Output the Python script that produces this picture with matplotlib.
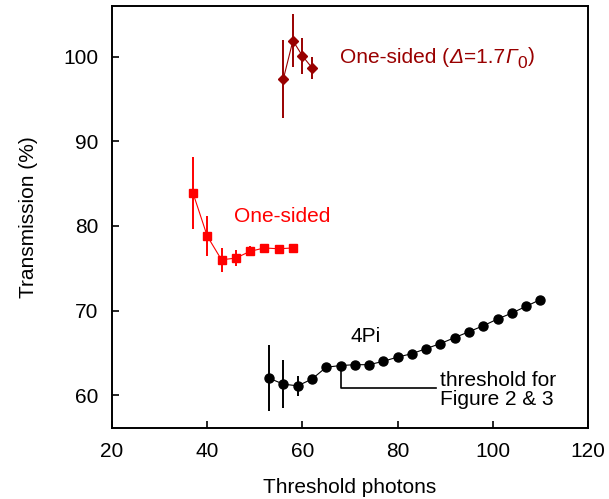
import numpy as np
import matplotlib
matplotlib.use("Agg")
import matplotlib.pyplot as plt

plt.rcParams['font.family'] = ['Liberation Sans', 'DejaVu Sans']

# 4Pi (negro)
x_4pi = [53, 56, 59, 62, 65, 68, 71, 74, 77, 80, 83, 86, 89, 92, 95, 98, 101, 104, 107, 110]
y_4pi = [62.0, 61.3, 61.1, 61.9, 63.3, 63.5, 63.6, 63.6, 64.0, 64.5,
         64.9, 65.5, 66.1, 66.8, 67.5, 68.2, 69.0, 69.7, 70.5, 71.3]
e_4pi = [3.9, 2.8, 1.2, 0.5, 0.3, 0.3, 0.3, 0.3, 0.3, 0.3,
         0.3, 0.3, 0.3, 0.3, 0.3, 0.3, 0.3, 0.3, 0.3, 0.3]

# One-sided (rojo)
x_os = [37, 40, 43, 46, 49, 52, 55, 58]
y_os = [83.9, 78.8, 76.0, 76.2, 77.0, 77.4, 77.3, 77.4]
e_os = [4.3, 2.4, 1.45, 0.95, 0.6, 0.3, 0.3, 0.3]

# One-sided con desintonia (rojo oscuro)
x_det = [56, 58, 60, 62]
y_det = [97.4, 101.9, 100.1, 98.7]
e_det = [4.6, 3.1, 2.1, 1.3]

rojo_osc = '#990000'
fs = 15

fig = plt.figure(figsize=(6.09, 4.99), dpi=100)
ax = fig.add_axes([0.184, 0.142, 0.7815, 0.846])

ax.errorbar(x_4pi, y_4pi, yerr=e_4pi, fmt='o-', color='black', ms=6.5,
            lw=0.8, elinewidth=1.4, capsize=0)
ax.errorbar(x_os, y_os, yerr=e_os, fmt='s-', color='#ff0000', ms=5.5,
            lw=0.8, elinewidth=1.4, capsize=0)
ax.errorbar(x_det, y_det, yerr=e_det, fmt='D-', color=rojo_osc, ms=5.5,
            lw=0.8, elinewidth=1.4, capsize=0)

# Linea de umbral
ax.plot([68.1, 68.1, 88.1], [63.0, 60.83, 60.83], color='black', lw=1.2)

ax.text(88.9, 60.65, 'threshold for\nFigure 2 & 3', fontsize=fs, va='center',
        ha='left', linespacing=1.0)
ax.text(73.2, 66.9, '4Pi', fontsize=fs, ha='center', va='center')
ax.text(55.7, 81.07, 'One-sided', fontsize=fs, color='#ff0000', ha='center', va='center')

# Etiqueta con letras griegas en cursiva, por trozos encadenados
t = ax.text(67.9, 99.3, 'One-sided (', fontsize=fs, color=rojo_osc,
            ha='left', va='baseline')
partes = [('Δ', 'italic', 0.5), ('=1.7', 'normal', 0), ('Γ', 'italic', 0)]
for txt, estilo, dx in partes:
    t = ax.annotate(txt, xy=(1, 0), xycoords=t, xytext=(dx, 0),
                    textcoords='offset points', fontsize=fs, style=estilo,
                    color=rojo_osc, ha='left', va='bottom')
t = ax.annotate('0', xy=(1, 0), xycoords=t, xytext=(0.3, -3.2),
                textcoords='offset points', fontsize=12.5, color=rojo_osc,
                ha='left', va='bottom')
ax.annotate(')', xy=(1, 0), xycoords=t, xytext=(0.5, 3.6),
            textcoords='offset points', fontsize=fs, color=rojo_osc,
            ha='left', va='bottom')

ax.set_xlim(20, 120)
ax.set_ylim(56.1, 106.0)
ax.set_xticks([20, 40, 60, 80, 100, 120])
ax.set_yticks([60, 70, 80, 90, 100])
ax.tick_params(direction='in', length=5, width=1.2, labelsize=fs, pad=10,
               top=False, right=False)
for s in ax.spines.values():
    s.set_linewidth(1.4)

ax.set_xlabel('Threshold photons', fontsize=fs, labelpad=12)
ax.set_ylabel('Transmission (%)', fontsize=fs, labelpad=18)

fig.savefig('out.png', dpi=100)
